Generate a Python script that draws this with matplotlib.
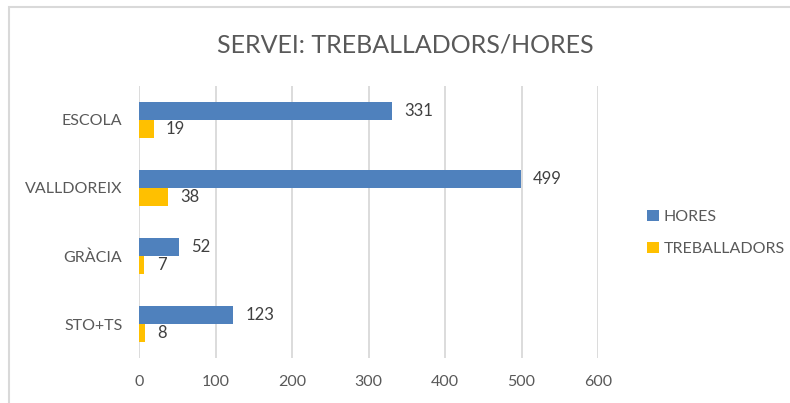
import matplotlib.pyplot as plt
import numpy as np
from matplotlib.patches import Rectangle

categories = ["ESCOLA", "VALLDOREIX", "GRÀCIA", "STO+TS"]
hores = [331, 499, 52, 123]
treballadors = [19, 38, 7, 8]
ticks = [0, 100, 200, 300, 400, 500, 600]

blue = "#4F81BD"
yellow = "#FFC000"
txt = "#595959"

plt.rcParams['font.family'] = ['Lato', 'DejaVu Sans']

fig = plt.figure(figsize=(7.9, 4.03), dpi=100)
ax = fig.add_axes([139 / 790, 1 - 358 / 403, 459 / 790, 272 / 403])

# light frame around the chart, as in the screenshot
fig.patches.append(Rectangle((9 / 790, -0.1), 2, 1.1 - 7 / 403, transform=fig.transFigure,
                             fill=False, edgecolor="#D9D9D9", linewidth=1.5))

y = np.arange(len(categories))
h = 0.265
b1 = ax.barh(y - h / 2, hores, height=h, color=blue, label="HORES")
b2 = ax.barh(y + h / 2, treballadors, height=h, color=yellow, label="TREBALLADORS")

for bars, vals in [(b1, hores), (b2, treballadors)]:
    for bar, v in zip(bars, vals):
        ax.annotate(str(v), (v, bar.get_y() + bar.get_height() / 2),
                    xytext=(9, 0), textcoords="offset points",
                    va="center", ha="left", fontsize=12, color="#404040")

ax.set_xlim(0, 600)
ax.set_ylim(3.5, -0.5)
ax.set_xticks(ticks)
ax.set_yticks(y)
ax.set_yticklabels(categories)
ax.tick_params(axis="both", length=0, labelsize=11.5, colors=txt)
ax.tick_params(axis="x", pad=12)
ax.tick_params(axis="y", pad=12)
ax.grid(axis="x", color="#D9D9D9", linewidth=1.3)
ax.set_axisbelow(True)
for s in ax.spines.values():
    s.set_visible(False)

fig.text(405 / 790, 1 - 45 / 403, "SERVEI: TREBALLADORS/HORES", ha="center", va="center",
         fontsize=18, color=txt)

fig.legend(handles=[b1, b2], loc="center left", bbox_to_anchor=(633 / 790, 1 - 233 / 403),
           frameon=False, fontsize=11.5, labelcolor=txt, handlelength=0.7, handleheight=0.7,
           handletextpad=0.3, labelspacing=1.1)

fig.savefig("out.png", dpi=100)
